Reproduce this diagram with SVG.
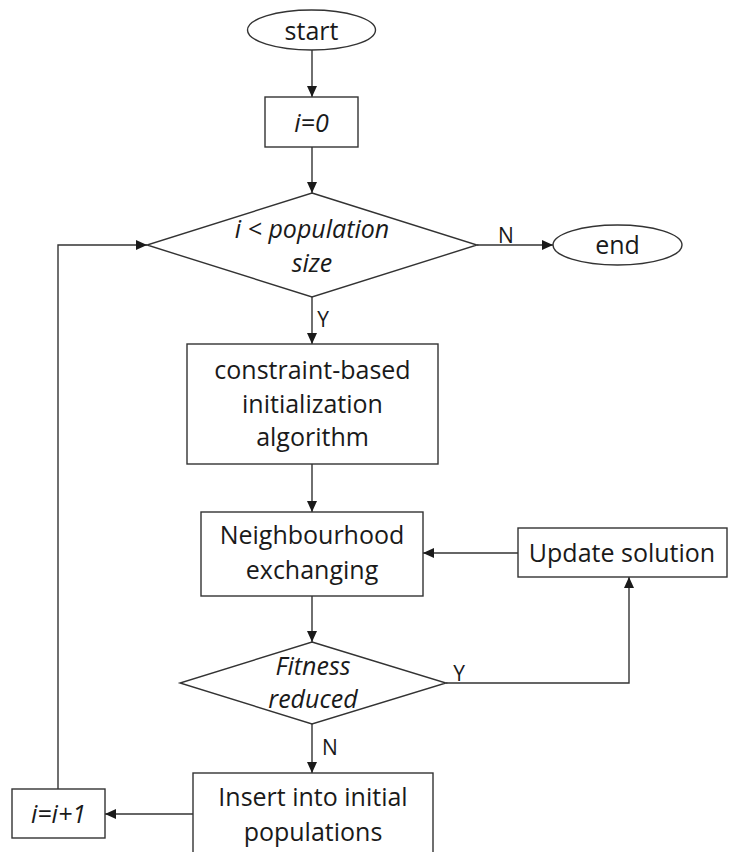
<svg xmlns="http://www.w3.org/2000/svg" width="729" height="852" viewBox="0 0 729 852">
<style>
.s{fill:#fff;stroke:#333;stroke-width:1.4}
.c{fill:none;stroke:#333;stroke-width:1.4}
text{font-family:"Open Sans","Noto Sans","Liberation Sans",sans-serif;font-size:25px;fill:#1a1a1a;text-anchor:middle}
.i{font-style:italic;font-size:25px}
.l{font-size:21px}
</style>
<defs>
<marker id="a" markerUnits="userSpaceOnUse" markerWidth="12" markerHeight="10" refX="11" refY="5" orient="auto">
<path d="M0,0 L11,5 L0,10 Z" fill="#1a1a1a"/>
</marker>
</defs>
<rect width="729" height="852" fill="#fff"/>
<g id="connectors">
<line class="c" x1="312" y1="50" x2="312" y2="97" marker-end="url(#a)"/>
<line class="c" x1="312" y1="147" x2="312" y2="193" marker-end="url(#a)"/>
<line class="c" x1="477" y1="245" x2="553" y2="245" marker-end="url(#a)"/>
<line class="c" x1="312" y1="297" x2="312" y2="344" marker-end="url(#a)"/>
<line class="c" x1="312" y1="464" x2="312" y2="512" marker-end="url(#a)"/>
<line class="c" x1="518" y1="553" x2="423" y2="553" marker-end="url(#a)"/>
<line class="c" x1="312" y1="596" x2="312" y2="642" marker-end="url(#a)"/>
<polyline class="c" points="446,683 629,683 629,577" marker-end="url(#a)"/>
<line class="c" x1="312" y1="724" x2="312" y2="773" marker-end="url(#a)"/>
<line class="c" x1="193" y1="814" x2="105" y2="814" marker-end="url(#a)"/>
<polyline class="c" points="58,789 58,245 147,245" marker-end="url(#a)"/>
<text class="l" x="506" y="243">N</text>
<text class="l" x="323" y="327">Y</text>
<text class="l" x="459" y="681">Y</text>
<text class="l" x="330" y="755">N</text>
</g>
<g id="start">
<ellipse class="s" cx="311.5" cy="30" rx="64" ry="20"/>
<text x="311.5" y="40">start</text>
</g>
<g id="init">
<rect class="s" x="265" y="97" width="93" height="50"/>
<text class="i" x="311.5" y="132">i=0</text>
</g>
<g id="cond1">
<polygon class="s" points="312,193 477,245 312,297 147,245"/>
<text class="i" x="312" y="238">i &lt; population</text>
<text class="i" x="312" y="272">size</text>
</g>
<g id="end">
<ellipse class="s" cx="617.5" cy="245" rx="64.5" ry="20"/>
<text x="617.5" y="254">end</text>
</g>
<g id="cbi">
<rect class="s" x="187" y="344" width="251" height="120"/>
<text x="312.5" y="379">constraint-based</text>
<text x="312.5" y="413">initialization</text>
<text x="312.5" y="446">algorithm</text>
</g>
<g id="neigh">
<rect class="s" x="201" y="512" width="222" height="84"/>
<text x="312" y="544">Neighbourhood</text>
<text x="312" y="579">exchanging</text>
</g>
<g id="update">
<rect class="s" x="518" y="528" width="209" height="49"/>
<text x="622" y="562">Update solution</text>
</g>
<g id="cond2">
<polygon class="s" points="312,642 446,683 312,724 180,683"/>
<text class="i" x="313" y="675">Fitness</text>
<text class="i" x="313" y="708">reduced</text>
</g>
<g id="insert">
<rect class="s" x="193" y="773" width="240" height="100"/>
<text x="313" y="806">Insert into initial</text>
<text x="313" y="841">populations</text>
</g>
<g id="incr">
<rect class="s" x="12" y="789" width="93" height="49"/>
<text class="i" x="58.5" y="823">i=i+1</text>
</g>
</svg>
